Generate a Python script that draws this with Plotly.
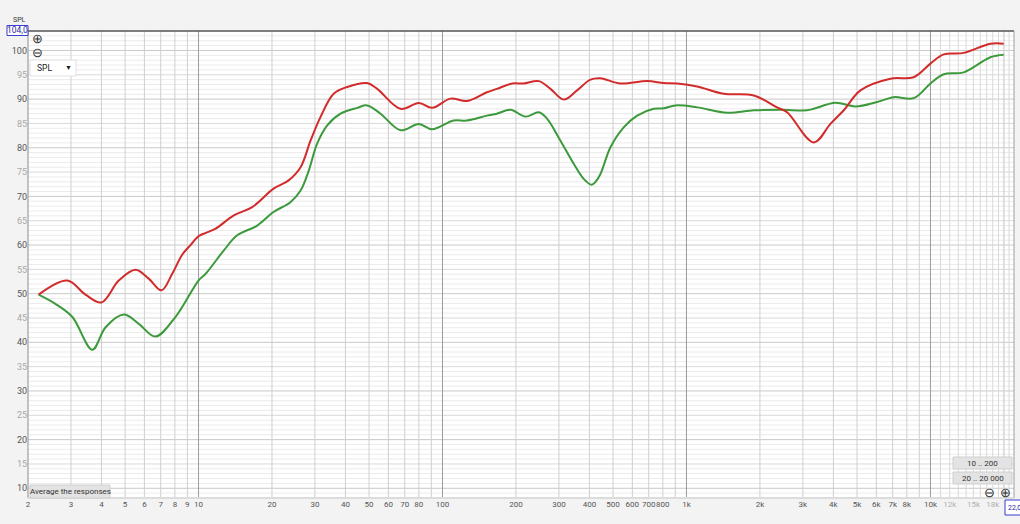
import math
import plotly.graph_objects as go

# ---------------- data ----------------
red_freq = [2.21, 2.9, 3.44, 4.0, 4.71, 5.52, 6.25, 7.05, 7.8, 8.57, 9.27, 10.0, 10.7, 11.7, 13.95, 16.6,
            20.3, 23.4, 26.2, 28.8, 31.6, 35.8, 40.7, 49.1, 54, 67.3, 80, 90.7, 107.8, 126, 152, 167,
            193, 215, 248, 277, 314, 356, 404, 444, 536, 690, 807, 916, 1106, 1421, 1887, 2351, 2585,
            3324, 3890, 4413, 5164, 6853, 8537, 10000, 11330, 13690, 17610, 19960]
red_spl = [49.8, 52.7, 49.8, 48.2, 52.7, 54.9, 53.1, 50.7, 54.1, 58.0, 60.0, 61.8, 62.5, 63.3, 66.1, 67.8,
           71.6, 73.3, 76.0, 81.5, 86.3, 91.1, 92.5, 93.3, 92.1, 88.0, 89.2, 88.2, 90.1, 89.6, 91.4, 92.1,
           93.2, 93.2, 93.7, 92.1, 89.9, 91.8, 94.0, 94.3, 93.2, 93.7, 93.3, 93.2, 92.6, 91.1, 90.75, 88.3, 87.3,
           81.1, 84.9, 87.7, 91.8, 94.2, 94.5, 97.3, 99.2, 99.5, 101.4, 101.4]

green_freq = [2.21, 2.59, 3.04, 3.67, 4.16, 4.94, 5.69, 6.66, 8.04, 10.0, 10.7, 12.7, 14.4, 17.4, 20.3,
              23.8, 26.2, 28.3, 30.6, 33.7, 38.2, 44.7, 49.1, 55.7, 67.3, 80, 90.7, 111, 126, 152, 167,
              190, 219, 248, 268, 304, 345, 379, 408, 424, 444, 488, 553, 628, 734, 807, 901, 1106, 1468,
              1887, 2427, 3120, 3324, 4078, 4924, 6043, 7068, 8537, 10000, 11330, 13690, 17610, 19960]
green_spl = [49.8, 47.9, 45.2, 38.5, 43.1, 45.7, 43.8, 41.2, 45.2, 52.7, 54.1, 58.9, 62.0, 64.0, 66.8,
             68.8, 71.2, 75.3, 80.8, 84.6, 87.0, 88.2, 88.7, 87.0, 83.6, 84.9, 83.8, 85.6, 85.6, 86.6, 87.0,
             87.8, 86.4, 87.3, 86.0, 81.5, 76.7, 73.6, 72.4, 73.0, 74.6, 80.1, 84.2, 86.6, 88.0, 88.1, 88.7, 88.3,
             87.2, 87.7, 87.8, 87.7, 88.0, 89.25, 88.5, 89.4, 90.4, 90.2, 93.2, 95.1, 95.5, 98.6, 99.1]

x_tick_vals = [2, 3, 4, 5, 6, 7, 8, 9, 10, 20, 30, 40, 50, 60, 70, 80, 100, 200, 300, 400, 500, 600, 700,
               800, 1000, 2000, 3000, 4000, 5000, 6000, 7000, 8000, 10000, 12000, 15000, 18000]
x_tick_text = ["2", "3", "4", "5", "6", "7", "8", "9", "10", "20", "30", "40", "50", "60", "70", "80", "100",
               "200", "300", "400", "500", "600", "700", "800", "1k", "2k", "3k", "4k", "5k", "6k", "7k",
               "8k", "10k", "12k", "15k", "18k"]
x_light_labels = ["12k", "15k", "18k"]
y_tick_vals = list(range(10, 105, 5))

# ---------------- geometry ----------------
W_PX, H_PX = 1020, 524
L, R, T, B = 28, 6, 31, 26
PW, PH = W_PX - L - R, H_PX - T - B
F_LO, F_HI = 2.0, 22000.0
Y_LO, Y_HI = 8, 104
LLO, LHI = math.log10(F_LO), math.log10(F_HI)


def fx(f):
    return (math.log10(f) - LLO) / (LHI - LLO)


def px(x):
    return (x - L) / PW


def py(y):
    return (H_PX - B - y) / PH


FONT = "Roboto, Noto Sans, sans-serif"

fig = go.Figure()
fig.add_trace(go.Scatter(x=green_freq, y=green_spl, mode="lines",
                         line=dict(color="#3c9a3c", width=2, shape="spline", smoothing=1.0),
                         hoverinfo="skip", showlegend=False))
fig.add_trace(go.Scatter(x=red_freq, y=red_spl, mode="lines",
                         line=dict(color="#d22b2b", width=2, shape="spline", smoothing=1.0),
                         hoverinfo="skip", showlegend=False))

shapes = []
# horizontal grid
for v in range(Y_LO + 1, Y_HI):
    if v % 10 == 0:
        c = "#c9c9c9"
    elif v % 5 == 0:
        c = "#d9d9d9"
    else:
        c = "#ebebeb"
    shapes.append(dict(type="line", xref="paper", yref="y", x0=0, x1=1, y0=v, y1=v,
                       line=dict(color=c, width=1), layer="below"))
# vertical grid
for dec in [1, 10, 100, 1000, 10000]:
    for m in range(1, 10):
        f = dec * m
        if f < F_LO or f > F_HI:
            continue
        c = "#9c9c9c" if m == 1 else "#cfcfcf"
        shapes.append(dict(type="line", xref="paper", yref="paper", x0=fx(f), x1=fx(f), y0=0, y1=1,
                           line=dict(color=c, width=1), layer="below"))
for k in range(11, 22):
    f = k * 1000
    shapes.append(dict(type="line", xref="paper", yref="paper", x0=fx(f), x1=fx(f), y0=0, y1=1,
                       line=dict(color="#d9d9d9", width=1), layer="below"))
# frame
shapes.append(dict(type="line", xref="paper", yref="paper", x0=0, x1=1, y0=1, y1=1,
                   line=dict(color="#555555", width=1.5)))
shapes.append(dict(type="line", xref="paper", yref="paper", x0=0, x1=0, y0=0, y1=1,
                   line=dict(color="#a0a0a0", width=1)))
shapes.append(dict(type="line", xref="paper", yref="paper", x0=1, x1=1, y0=0, y1=1,
                   line=dict(color="#a0a0a0", width=1)))
shapes.append(dict(type="line", xref="paper", yref="paper", x0=0, x1=1, y0=0, y1=0,
                   line=dict(color="#dcdcdc", width=2)))


def box(x0, y0, x1, y1, fill, border, width=1):
    shapes.append(dict(type="rect", xref="paper", yref="paper", x0=px(x0), x1=px(x1), y0=py(y1), y1=py(y0),
                       fillcolor=fill, line=dict(color=border, width=width)))


# UI boxes
box(7, 25.5, 28, 35.5, "white", "#3c3cd0")          # 104,0
box(30, 60, 76, 76, "white", "#e0e0e0")             # SPL dropdown
box(30, 485, 110, 498, "#e3e3e3", "#cfcfcf")        # Average the responses
box(953, 457, 1012, 469, "#e3e3e3", "#cfcfcf")      # 10 .. 200
box(953, 472, 1012, 484, "#e3e3e3", "#cfcfcf")      # 20 .. 20 000
box(1005, 500, 1040, 515, "white", "#3c3cd0")       # 22,0

ann = []


def text(x, y, s, size=9, color="#333333", xanchor="center", family=FONT):
    ann.append(dict(xref="paper", yref="paper", x=px(x), y=py(y), text=s, showarrow=False,
                    xanchor=xanchor, yanchor="middle", font=dict(family=family, size=size, color=color)))


text(19, 20, "SPL", 7, "#333333")
text(17.5, 30.5, "104,0", 8.5, "#2a2aa0")
text(37, 38.5, "⊕", 13, "#333333")
text(37, 52.5, "⊖", 13, "#333333")
text(35, 68, "SPL", 8.5, "#222222", "left")
text(68, 68, "▼", 7, "#222222")
text(70, 491.5, "Average the responses", 8, "#333333")
text(982.5, 463, "10 .. 200", 8, "#333333")
text(982.5, 478, "20 .. 20 000", 8, "#333333")
text(989, 492, "⊖", 13, "#333333")
text(1005, 492, "⊕", 13, "#333333")
text(1005.5, 508, "22,0", 7, "#2a2aa0", "left")

ticktext = [f'<span style="color:#b0b0b0">{t}</span>' if t in x_light_labels else t for t in x_tick_text]
yticktext = [str(v) if v % 10 == 0 else f'<span style="color:#a8a8a8">{v}</span>' for v in y_tick_vals]

fig.update_layout(
    width=W_PX, height=H_PX,
    margin=dict(l=L, r=R, t=T, b=B, pad=0),
    paper_bgcolor="#f3f3f3", plot_bgcolor="white",
    shapes=shapes, annotations=ann,
    xaxis=dict(type="log", range=[LLO, LHI], showgrid=False, zeroline=False,
               tickmode="array", tickvals=x_tick_vals, ticktext=ticktext, tickangle=0,
               tickfont=dict(family=FONT, size=8, color="#555555"), ticks="", showline=False,
               fixedrange=True),
    yaxis=dict(range=[Y_LO, Y_HI], showgrid=False, zeroline=False,
               tickmode="array", tickvals=y_tick_vals, ticktext=yticktext,
               tickfont=dict(family=FONT, size=9, color="#555555"), ticks="", showline=False,
               fixedrange=True),
    showlegend=False,
)

fig.write_html("out.html", config={"displayModeBar": False},
               post_script="document.body.style.margin='0';document.body.style.background='#f3f3f3';")
